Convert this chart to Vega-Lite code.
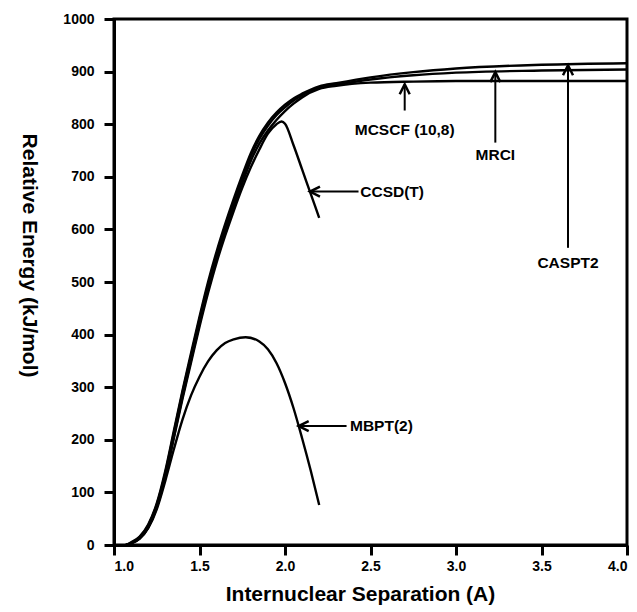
{
  "$schema": "https://vega.github.io/schema/vega-lite/v6.json",
  "autosize": {"type": "none"},
  "padding": {"left": 114, "top": 19, "right": 10, "bottom": 67},
  "width": 513,
  "height": 526,
  "background": "white",
  "config": {
    "view": {"stroke": "black", "strokeWidth": 3},
    "axis": {
      "grid": false,
      "domainColor": "black",
      "domainWidth": 3,
      "tickColor": "black",
      "tickWidth": 3,
      "tickSize": 10,
      "labelFont": "Liberation Sans",
      "labelFontWeight": "bold",
      "labelFontSize": 14,
      "labelColor": "black",
      "titleFont": "Liberation Sans",
      "titleFontWeight": "bold",
      "titleFontSize": 21,
      "titleColor": "black"
    }
  },
  "datasets": {
    "curves": [
      {"method": "CASPT2", "r": 1.07, "energy": 0},
      {"method": "CASPT2", "r": 1.1, "energy": 5},
      {"method": "CASPT2", "r": 1.15, "energy": 16},
      {"method": "CASPT2", "r": 1.2, "energy": 39},
      {"method": "CASPT2", "r": 1.25, "energy": 79},
      {"method": "CASPT2", "r": 1.3, "energy": 141},
      {"method": "CASPT2", "r": 1.35, "energy": 217},
      {"method": "CASPT2", "r": 1.4, "energy": 293},
      {"method": "CASPT2", "r": 1.45, "energy": 364},
      {"method": "CASPT2", "r": 1.5, "energy": 434},
      {"method": "CASPT2", "r": 1.55, "energy": 500},
      {"method": "CASPT2", "r": 1.6, "energy": 558},
      {"method": "CASPT2", "r": 1.65, "energy": 610},
      {"method": "CASPT2", "r": 1.7, "energy": 658},
      {"method": "CASPT2", "r": 1.75, "energy": 703},
      {"method": "CASPT2", "r": 1.8, "energy": 745},
      {"method": "CASPT2", "r": 1.85, "energy": 778},
      {"method": "CASPT2", "r": 1.9, "energy": 803},
      {"method": "CASPT2", "r": 1.95, "energy": 822},
      {"method": "CASPT2", "r": 2.0, "energy": 837},
      {"method": "CASPT2", "r": 2.05, "energy": 849},
      {"method": "CASPT2", "r": 2.1, "energy": 858},
      {"method": "CASPT2", "r": 2.2, "energy": 872},
      {"method": "CASPT2", "r": 2.3, "energy": 878},
      {"method": "CASPT2", "r": 2.5, "energy": 889},
      {"method": "CASPT2", "r": 2.75, "energy": 899},
      {"method": "CASPT2", "r": 3.0, "energy": 906},
      {"method": "CASPT2", "r": 3.5, "energy": 913},
      {"method": "CASPT2", "r": 4.0, "energy": 916},
      {"method": "MRCI", "r": 1.07, "energy": 0},
      {"method": "MRCI", "r": 1.1, "energy": 4},
      {"method": "MRCI", "r": 1.15, "energy": 15},
      {"method": "MRCI", "r": 1.2, "energy": 37},
      {"method": "MRCI", "r": 1.25, "energy": 77},
      {"method": "MRCI", "r": 1.3, "energy": 137},
      {"method": "MRCI", "r": 1.35, "energy": 213},
      {"method": "MRCI", "r": 1.4, "energy": 289},
      {"method": "MRCI", "r": 1.45, "energy": 359},
      {"method": "MRCI", "r": 1.5, "energy": 429},
      {"method": "MRCI", "r": 1.55, "energy": 494},
      {"method": "MRCI", "r": 1.6, "energy": 552},
      {"method": "MRCI", "r": 1.65, "energy": 604},
      {"method": "MRCI", "r": 1.7, "energy": 652},
      {"method": "MRCI", "r": 1.75, "energy": 697},
      {"method": "MRCI", "r": 1.8, "energy": 739},
      {"method": "MRCI", "r": 1.85, "energy": 772},
      {"method": "MRCI", "r": 1.9, "energy": 797},
      {"method": "MRCI", "r": 1.95, "energy": 817},
      {"method": "MRCI", "r": 2.0, "energy": 832},
      {"method": "MRCI", "r": 2.05, "energy": 845},
      {"method": "MRCI", "r": 2.1, "energy": 855},
      {"method": "MRCI", "r": 2.2, "energy": 870},
      {"method": "MRCI", "r": 2.3, "energy": 875},
      {"method": "MRCI", "r": 2.5, "energy": 885},
      {"method": "MRCI", "r": 2.75, "energy": 893},
      {"method": "MRCI", "r": 3.0, "energy": 898},
      {"method": "MRCI", "r": 3.5, "energy": 902},
      {"method": "MRCI", "r": 4.0, "energy": 904},
      {"method": "MCSCF", "r": 1.07, "energy": 0},
      {"method": "MCSCF", "r": 1.1, "energy": 3},
      {"method": "MCSCF", "r": 1.15, "energy": 13},
      {"method": "MCSCF", "r": 1.2, "energy": 34},
      {"method": "MCSCF", "r": 1.25, "energy": 73},
      {"method": "MCSCF", "r": 1.3, "energy": 132},
      {"method": "MCSCF", "r": 1.35, "energy": 206},
      {"method": "MCSCF", "r": 1.4, "energy": 281},
      {"method": "MCSCF", "r": 1.45, "energy": 351},
      {"method": "MCSCF", "r": 1.5, "energy": 420},
      {"method": "MCSCF", "r": 1.55, "energy": 485},
      {"method": "MCSCF", "r": 1.6, "energy": 543},
      {"method": "MCSCF", "r": 1.65, "energy": 595},
      {"method": "MCSCF", "r": 1.7, "energy": 643},
      {"method": "MCSCF", "r": 1.75, "energy": 688},
      {"method": "MCSCF", "r": 1.8, "energy": 730},
      {"method": "MCSCF", "r": 1.85, "energy": 763},
      {"method": "MCSCF", "r": 1.9, "energy": 788},
      {"method": "MCSCF", "r": 1.95, "energy": 808},
      {"method": "MCSCF", "r": 2.0, "energy": 825},
      {"method": "MCSCF", "r": 2.05, "energy": 839},
      {"method": "MCSCF", "r": 2.1, "energy": 851},
      {"method": "MCSCF", "r": 2.2, "energy": 867},
      {"method": "MCSCF", "r": 2.3, "energy": 873},
      {"method": "MCSCF", "r": 2.5, "energy": 879},
      {"method": "MCSCF", "r": 2.75, "energy": 881},
      {"method": "MCSCF", "r": 3.0, "energy": 882},
      {"method": "MCSCF", "r": 3.5, "energy": 882},
      {"method": "MCSCF", "r": 4.0, "energy": 882},
      {"method": "CCSD(T)", "r": 1.07, "energy": 0},
      {"method": "CCSD(T)", "r": 1.1, "energy": 3},
      {"method": "CCSD(T)", "r": 1.15, "energy": 12},
      {"method": "CCSD(T)", "r": 1.2, "energy": 33},
      {"method": "CCSD(T)", "r": 1.25, "energy": 71},
      {"method": "CCSD(T)", "r": 1.3, "energy": 129},
      {"method": "CCSD(T)", "r": 1.35, "energy": 203},
      {"method": "CCSD(T)", "r": 1.4, "energy": 277},
      {"method": "CCSD(T)", "r": 1.45, "energy": 346},
      {"method": "CCSD(T)", "r": 1.5, "energy": 415},
      {"method": "CCSD(T)", "r": 1.55, "energy": 479},
      {"method": "CCSD(T)", "r": 1.6, "energy": 537},
      {"method": "CCSD(T)", "r": 1.65, "energy": 588},
      {"method": "CCSD(T)", "r": 1.7, "energy": 635},
      {"method": "CCSD(T)", "r": 1.75, "energy": 679},
      {"method": "CCSD(T)", "r": 1.8, "energy": 718},
      {"method": "CCSD(T)", "r": 1.85, "energy": 752},
      {"method": "CCSD(T)", "r": 1.9, "energy": 782},
      {"method": "CCSD(T)", "r": 1.95, "energy": 800},
      {"method": "CCSD(T)", "r": 1.98, "energy": 805},
      {"method": "CCSD(T)", "r": 2.0, "energy": 801},
      {"method": "CCSD(T)", "r": 2.05, "energy": 760},
      {"method": "CCSD(T)", "r": 2.1, "energy": 714},
      {"method": "CCSD(T)", "r": 2.15, "energy": 668},
      {"method": "CCSD(T)", "r": 2.2, "energy": 622},
      {"method": "MBPT(2)", "r": 1.07, "energy": 0},
      {"method": "MBPT(2)", "r": 1.1, "energy": 3},
      {"method": "MBPT(2)", "r": 1.15, "energy": 12},
      {"method": "MBPT(2)", "r": 1.2, "energy": 32},
      {"method": "MBPT(2)", "r": 1.25, "energy": 68},
      {"method": "MBPT(2)", "r": 1.3, "energy": 122},
      {"method": "MBPT(2)", "r": 1.35, "energy": 182},
      {"method": "MBPT(2)", "r": 1.4, "energy": 238},
      {"method": "MBPT(2)", "r": 1.45, "energy": 284},
      {"method": "MBPT(2)", "r": 1.5, "energy": 320},
      {"method": "MBPT(2)", "r": 1.55, "energy": 349},
      {"method": "MBPT(2)", "r": 1.6, "energy": 370},
      {"method": "MBPT(2)", "r": 1.65, "energy": 384},
      {"method": "MBPT(2)", "r": 1.7, "energy": 391},
      {"method": "MBPT(2)", "r": 1.77, "energy": 395},
      {"method": "MBPT(2)", "r": 1.85, "energy": 387},
      {"method": "MBPT(2)", "r": 1.9, "energy": 372},
      {"method": "MBPT(2)", "r": 1.95, "energy": 346},
      {"method": "MBPT(2)", "r": 2.0, "energy": 308},
      {"method": "MBPT(2)", "r": 2.05, "energy": 260},
      {"method": "MBPT(2)", "r": 2.1, "energy": 203},
      {"method": "MBPT(2)", "r": 2.15, "energy": 142},
      {"method": "MBPT(2)", "r": 2.2, "energy": 76}
    ],
    "vArrows": [
      {"label": "MCSCF (10,8)", "r": 2.70, "tip": 876, "tail": 826, "labelY": 789},
      {"label": "MRCI", "r": 3.23, "tip": 899, "tail": 765, "labelY": 741},
      {"label": "CASPT2", "r": 3.655, "tip": 912, "tail": 565, "labelY": 536}
    ],
    "hArrows": [
      {"label": "CCSD(T)", "tip": 2.146, "tail": 2.43, "energy": 672, "labelR": 2.44},
      {"label": "MBPT(2)", "tip": 2.08, "tail": 2.36, "energy": 226, "labelR": 2.38}
    ]
  },
  "layer": [
    {
      "data": {"name": "curves"},
      "mark": {"type": "line", "interpolate": "monotone", "color": "black", "strokeWidth": 2.4},
      "encoding": {
        "x": {"field": "r", "type": "quantitative",
              "scale": {"domain": [1, 4], "nice": false, "zero": false},
              "axis": {"values": [1, 1.5, 2, 2.5, 3, 3.5, 4], "format": ".1f", "labelPadding": 4, "titlePadding": 10, "titleX": 246},
              "title": "Internuclear Separation (A)"},
        "y": {"field": "energy", "type": "quantitative",
              "scale": {"domain": [0, 1000], "nice": false},
              "axis": {"values": [0, 100, 200, 300, 400, 500, 600, 700, 800, 900, 1000], "format": "d", "labelPadding": 10, "titlePadding": 44, "titleAngle": 90, "titleY": 236},
              "title": "Relative Energy (kJ/mol)"},
        "detail": {"field": "method"}
      }
    },
    {
      "data": {"name": "vArrows"},
      "mark": {"type": "rule", "color": "black", "strokeWidth": 2},
      "encoding": {
        "x": {"field": "r", "type": "quantitative"},
        "y": {"field": "tip", "type": "quantitative"},
        "y2": {"field": "tail"}
      }
    },
    {
      "data": {"name": "vArrows"},
      "mark": {"type": "point", "shape": "M-0.5,1L0,0L0.5,1", "size": 400, "filled": false, "stroke": "black", "strokeWidth": 2.5, "opacity": 1},
      "encoding": {
        "x": {"field": "r", "type": "quantitative"},
        "y": {"field": "tip", "type": "quantitative"}
      }
    },
    {
      "data": {"name": "vArrows"},
      "mark": {"type": "text", "font": "Liberation Sans", "fontWeight": "bold", "fontSize": 15.5, "color": "black", "align": "center", "baseline": "middle"},
      "encoding": {
        "x": {"field": "r", "type": "quantitative"},
        "y": {"field": "labelY", "type": "quantitative"},
        "text": {"field": "label"}
      }
    },
    {
      "data": {"name": "hArrows"},
      "mark": {"type": "rule", "color": "black", "strokeWidth": 2},
      "encoding": {
        "x": {"field": "tip", "type": "quantitative"},
        "x2": {"field": "tail"},
        "y": {"field": "energy", "type": "quantitative"}
      }
    },
    {
      "data": {"name": "hArrows"},
      "mark": {"type": "point", "shape": "M1,-0.5L0,0L1,0.5", "size": 400, "filled": false, "stroke": "black", "strokeWidth": 2.5, "opacity": 1},
      "encoding": {
        "x": {"field": "tip", "type": "quantitative"},
        "y": {"field": "energy", "type": "quantitative"}
      }
    },
    {
      "data": {"name": "hArrows"},
      "mark": {"type": "text", "font": "Liberation Sans", "fontWeight": "bold", "fontSize": 15.5, "color": "black", "align": "left", "baseline": "middle"},
      "encoding": {
        "x": {"field": "labelR", "type": "quantitative"},
        "y": {"field": "energy", "type": "quantitative"},
        "text": {"field": "label"}
      }
    }
  ]
}
